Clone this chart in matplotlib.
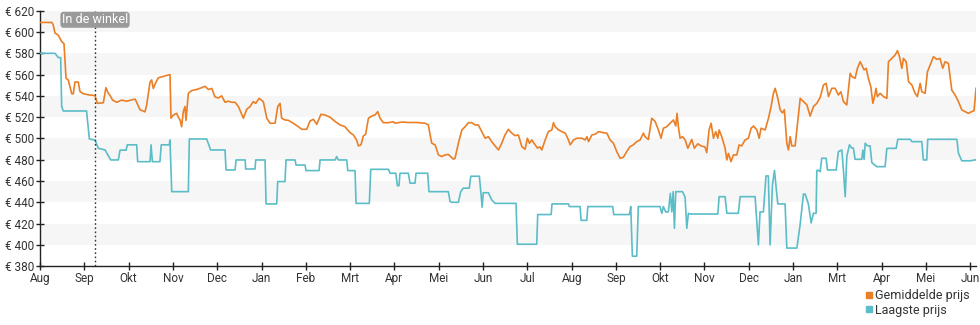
import matplotlib
matplotlib.use("Agg")
import matplotlib.pyplot as plt
from matplotlib.lines import Line2D

plt.rcParams['font.family'] = ['Roboto', 'DejaVu Sans']

# days since the first of August, price in euro
avg_days = [
    0, 8.2, 9.1, 10.3, 12.6, 14.9, 16.5, 17.9, 19.4, 21.8, 22.9, 24.0, 26.3, 27.5, 29.7,
    33.2, 36.6, 37.8, 39.4, 43.5, 45.3, 46.9, 48.1, 49.9, 52.7, 56.1, 59.6, 65.3, 66.4,
    68.7, 72.1, 73.3, 75.6, 76.7, 77.8, 79.7, 81.3, 88.1, 89.3, 90.0, 91.6, 93.9, 95.0,
    96.2, 97.3, 98.4, 99.6, 100.3, 101.9, 104.2, 107.6, 111.1, 113.4, 115.7, 118.0,
    120.2, 122.5, 124.8, 127.1, 129.4, 131.7, 134.0, 136.3, 139.7, 142.0, 144.3, 146.5,
    148.2, 150.5, 153.4, 155.8, 158.0, 161.5, 163.3, 164.9, 166.0, 168.3, 170.6, 174.0,
    177.5, 179.8, 183.2, 185.5, 187.8, 190.1, 193.0, 195.8, 199.2, 202.7, 206.1, 209.5,
    213.0, 215.2, 217.5, 218.7, 220.5, 222.1, 223.7, 225.6, 227.8, 230.1, 232.0, 233.6,
    235.8, 239.3, 242.7, 243.9, 248.5, 253.0, 258.8, 264.5, 266.8, 268.0, 269.1, 271.4,
    273.7, 276.0, 278.3, 280.5, 284.0, 285.1, 287.4, 289.8, 292.0, 294.3, 296.6, 298.9,
    301.1, 303.5, 305.8, 308.0, 310.3, 312.6, 314.9, 317.2, 319.4, 321.7, 324.1, 326.3,
    328.6, 331.0, 333.2, 334.8, 336.2, 337.8, 340.1, 341.7, 343.5, 344.7, 347.0, 349.2,
    351.6, 352.7, 353.9, 356.2, 358.5, 360.8, 363.0, 364.2, 366.5, 368.8, 372.2, 374.5,
    375.7, 376.8, 379.1, 381.4, 383.7, 387.1, 389.4, 391.6, 393.9, 396.2, 398.5, 400.7,
    403.0, 405.3, 407.6, 409.9, 412.2, 414.5, 415.6, 417.9, 420.2, 422.5, 424.8, 426.6,
    428.2, 430.5, 432.8, 435.1, 436.7, 437.6, 438.5, 439.7, 441.3, 443.2, 445.0, 446.5,
    447.7, 449.5, 451.8, 454.1, 456.8, 458.0, 459.6, 461.0, 462.6, 464.2, 465.6, 466.5,
    468.3, 470.6, 471.8, 472.9, 474.7, 476.3, 478.6, 480.2, 482.0, 484.3, 486.6, 488.5,
    490.1, 492.4, 494.0, 495.3, 498.1, 500.4, 502.2, 503.8, 505.0, 506.8, 508.4, 510.0,
    511.3, 513.0, 514.1, 515.3, 516.4, 518.7, 519.9, 522.2, 524.5, 526.8, 529.0, 531.3,
    533.6, 535.9, 538.2, 540.0, 541.6, 543.9, 546.2, 548.4, 550.1, 551.9, 554.2, 556.5,
    557.7, 559.9, 561.5, 563.4, 564.5, 566.1, 567.5, 569.0, 570.7, 572.1, 573.0, 574.3,
    575.2, 577.1, 579.4, 581.7, 582.8, 585.1, 587.4, 589.0, 590.4, 592.0, 593.1, 595.0,
    596.6, 598.9, 601.1, 602.7, 604.6, 605.7, 608.0, 609.6, 611.4, 613.7, 616.0, 618.2,
    620.1, 621.7, 624.0, 626.3, 628.6, 630.9, 633.2, 635.4, 637.7, 640.0, 641.6, 643.0,
]
avg_price = [
    609, 609, 606.6, 599, 597, 591, 589, 556.5, 555, 542, 542, 553, 553, 544, 542,
    541, 540.5, 540, 533, 533.5, 547.7, 542.4, 540.5, 536, 534, 536, 535, 537, 534,
    527, 525, 531.5, 553, 555, 547, 553, 557, 559.6, 560, 519, 522, 523.6, 520,
    517.4, 511, 525, 530, 517, 542.4, 545, 546, 547.7, 549, 546, 547,
    539, 538, 540, 534, 535, 534, 534, 530, 519, 527.4, 530, 534.6,
    533, 537.7, 534.6, 519, 514.3, 514.3, 530, 533, 519, 517.4, 517, 514.3,
    511, 508.6, 508.6, 516.4, 518, 513.3, 522.7, 522, 520, 516, 512.7, 511,
    505.4, 503.4, 498.6, 493, 494, 502.3, 504, 519, 521, 522, 525.2, 519,
    514.8, 514.8, 515.7, 514.3, 515.4, 515, 515, 514.3, 512.7, 503.3, 495.5, 494,
    484.5, 483, 484.5, 485, 480.5, 481.4, 495.5, 508, 511, 514.8, 514.8, 512.7,
    512.7, 506.4, 500.2, 501.7, 497, 493, 489.2, 495.5, 503.3, 508.6, 505, 502.6,
    503.3, 492.3, 489.8, 500.2, 495.5, 498.6, 494, 491, 492, 489.2, 498.6, 506.4,
    508, 514.8, 511, 508, 506.4, 505, 498.6, 494, 498.6, 500.2, 500.2, 498.6,
    501.7, 497, 503.3, 504, 506.4, 505.4, 505, 498.6, 495.5, 487.6, 481.4, 482.3,
    487.6, 492.3, 494, 497, 498.6, 505, 501.7, 499, 519, 516, 508, 500.2,
    509.6, 511, 514.3, 517.4, 511.7, 523.6, 511, 500.2, 501.7, 498.6, 490.8, 495.5,
    499, 490.8, 495, 493, 492, 486.7, 508, 514.3, 500.2, 506.4, 500.2, 508,
    501.7, 490.8, 479.8, 486, 478.2, 484.5, 484.5, 493.9, 493, 498.6, 500.2, 509.6,
    511.7, 508, 500.2, 509.6, 508, 519, 530, 542.4, 547.1, 537.7, 527, 524,
    527, 495.5, 489.2, 501.7, 493, 493, 508, 537.7, 534.6, 531.5, 521, 530,
    533, 538.5, 550.2, 551.8, 539.3, 547.1, 547.1, 540.8, 543.9, 534.6, 531.5, 561.2,
    558.1, 556.5, 565.9, 572.1, 569, 564.4, 565.9, 556.5, 548.6, 533, 537.7, 547.1,
    539.3, 542.4, 539.3, 537.7, 572.1, 575.2, 578.4, 582.5, 576.8, 565.9, 575.2, 572.1,
    553.3, 550.2, 542.4, 539.3, 551.8, 543.9, 542.4, 562.7, 569, 576.8, 574.3, 575.2,
    565.9, 572.1, 570.5, 545.5, 540.8, 534.6, 526.8, 525.2, 523.6, 525.2, 526, 547.1,
]

low_days = [
    0, 10.3, 12.6, 14.2, 14.9, 16.0, 32.0, 33.9, 37.8, 40.0, 44.7, 48.6, 53.8, 55.0,
    59.1, 60.0, 66.4, 67.1, 75.6, 76.3, 77.2, 82.4, 83.3, 88.8, 89.3, 90.5, 101.9,
    102.6, 114.5, 117.2, 127.1, 127.8, 134.0, 134.7, 140.9, 141.3, 147.7, 148.2, 154.6,
    155.3, 162.6, 163.3, 168.3, 169.0, 175.2, 175.9, 182.1, 182.7, 191.7, 192.4, 202.7,
    203.8, 204.9, 210.7, 211.4, 216.4, 217.1, 226.2, 227.2, 239.3, 240.5, 244.4, 245.5,
    246.6, 247.3, 253.0, 254.2, 257.6, 258.3, 266.3, 267.2, 280.5, 281.7, 282.8, 287.4,
    289.0, 290.8, 294.9, 295.9, 301.8, 302.8, 303.7, 304.5, 308.0, 310.3, 312.6, 327.0,
    327.9, 341.2, 341.9, 351.1, 351.7, 363.0, 363.6, 371.0, 371.7, 375.6, 376.3, 393.4,
    394.1, 404.9, 405.8, 406.9, 409.9, 411.0, 425.9, 427.1, 428.2, 429.8, 431.6, 433.0,
    434.0, 434.9, 435.8, 436.7, 441.3, 443.1, 444.3, 445.4, 446.6, 465.6, 466.5, 470.6,
    471.8, 479.7, 480.9, 491.2, 491.9, 493.5, 494.6, 496.9, 498.7, 500.3, 501.5, 503.1,
    504.5, 506.8, 511.8, 513.0, 519.9, 522.1, 524.4, 525.6, 527.8, 529.7, 531.3, 533.1,
    533.6, 534.7, 535.9, 537.0, 540.0, 540.9, 546.9, 548.4, 550.8, 551.9, 553.1, 554.2,
    556.0, 557.6, 558.7, 559.9, 564.5, 565.2, 566.1, 566.8, 568.4, 570.2, 571.4, 574.8,
    580.5, 581.7, 588.1, 589.2, 597.7, 598.9, 605.7, 606.8, 609.1, 609.8, 629.8, 630.9,
    633.2, 638.9, 643.0,
]
low_price = [
    580, 580, 576, 576, 530, 525.8, 525.8, 499.5, 498.5, 490.8, 489.2, 479.8, 479.8, 489,
    489, 494, 494, 478.2, 478.2, 494, 478.2, 478.2, 494, 494, 498.6, 450, 450,
    499.5, 499.5, 489.2, 489.2, 470.4, 470.4, 479.8, 479.8, 471.3, 471.3, 479.8, 479.8,
    438.5, 438.5, 459.5, 459.5, 479.8, 479.8, 475, 475, 469.8, 469.8, 479.8, 479.8,
    483, 479.8, 479.8, 469.8, 469.8, 439, 439, 471, 471, 467.3, 467.3, 455.6,
    455.6, 467.3, 467.3, 458, 458, 467.3, 467.3, 450, 450, 440.8, 440, 440,
    450, 453.3, 453.3, 464.5, 464.5, 450, 435.4, 449, 449, 442.3, 439, 439,
    400.6, 400.6, 428.5, 428.5, 438.5, 438.5, 436, 436, 423, 423, 436, 436,
    428.5, 428.5, 436, 389.4, 389.4, 436, 436, 429.7, 436, 431, 431, 448.4,
    431, 450, 415.6, 450, 450, 445, 415.6, 429.7, 429, 429, 445.3, 445.3,
    429.7, 429.7, 445.3, 445.3, 431, 400, 431, 431, 464.8, 464.8, 400, 455.9,
    470, 438.5, 438.5, 397, 397, 418.6, 447.7, 447.7, 438.5, 420.6, 429.7, 429.7,
    470, 470, 468.8, 481.4, 481.4, 470.4, 470.4, 487.6, 489.2, 470, 445.3, 483,
    494, 491, 491, 480.4, 480.4, 489, 480.4, 495.5, 493, 493, 477.2, 473.5,
    473.5, 490.7, 490.7, 499.2, 499.2, 497, 497, 479.8, 479.8, 499.2, 499.2, 486,
    479, 479, 480,
]

month_labels = ['Aug', 'Sep', 'Okt', 'Nov', 'Dec', 'Jan', 'Feb', 'Mrt', 'Apr', 'Mei', 'Jun',
                'Jul', 'Aug', 'Sep', 'Okt', 'Nov', 'Dec', 'Jan', 'Mrt', 'Apr', 'Mei', 'Jun']
month_days = [round(i * 30.43, 1) for i in range(len(month_labels))]
in_store_day = 37.8
price_ticks = list(range(380, 621, 20))

ORANGE = '#ea7f26'
TEAL = '#5bbdc8'
TEXT = '#333333'

fig = plt.figure(figsize=(9.8, 3.25), dpi=100)
ax = fig.add_axes([0.0408, 0.181, 0.9552, 0.786])

# alternating light bands behind the price lines
for i in range(1, len(price_ticks) - 1, 2):
    ax.axhspan(price_ticks[i], price_ticks[i + 1], color='#f6f6f6', lw=0, zorder=0)

ax.plot(avg_days, avg_price, color=ORANGE, lw=1.2, zorder=3)
ax.plot(low_days, low_price, color=TEAL, lw=1.2, zorder=3)

ax.axvline(in_store_day, color='#333333', lw=1, ls=(0, (1.2, 1.8)), zorder=4)
ax.text(in_store_day, 611.5, 'In de winkel', ha='center', va='center', fontsize=9,
        color='white', zorder=5,
        bbox=dict(boxstyle='round,pad=0.12,rounding_size=0.25', fc='#9a9a9a', ec='none'))

ax.set_xlim(0, 643)
ax.set_ylim(380, 620)
ax.set_xticks(month_days)
ax.set_xticklabels(month_labels)
ax.set_yticks(price_ticks)
ax.set_yticklabels([f'€ {p}' for p in price_ticks])
ax.tick_params(axis='both', direction='inout', length=6, width=1, color='#222222',
               labelsize=8.5, labelcolor=TEXT, pad=1)
for side in ('top', 'right'):
    ax.spines[side].set_visible(False)
for side in ('left', 'bottom'):
    ax.spines[side].set_color('#222222')
    ax.spines[side].set_linewidth(1)

handles = [
    Line2D([], [], ls='none', marker='s', markersize=5, color=ORANGE, label='Gemiddelde prijs'),
    Line2D([], [], ls='none', marker='s', markersize=5, color=TEAL, label='Laagste prijs'),
]
fig.legend(handles=handles, loc='lower right', bbox_to_anchor=(0.995, 0.01), frameon=False,
           fontsize=9, handlelength=0.6, handletextpad=0.2, labelspacing=0.1,
           borderaxespad=0, labelcolor=TEXT)

fig.savefig('out.png', dpi=100)
